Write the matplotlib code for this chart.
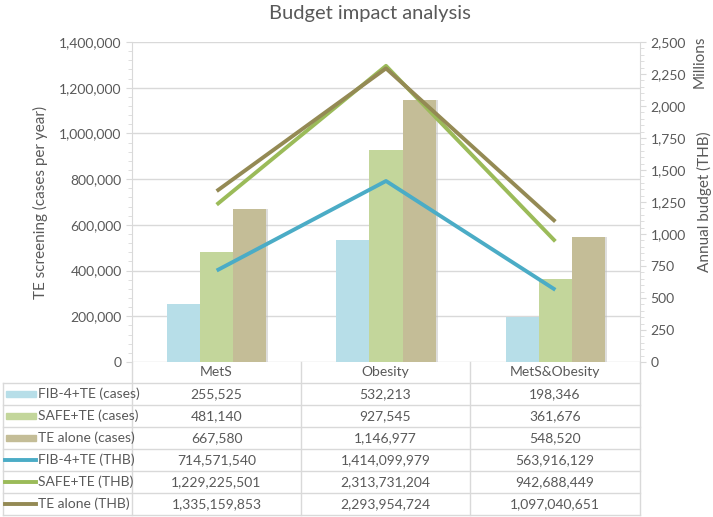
import matplotlib
matplotlib.use("Agg")
import matplotlib.pyplot as plt
import numpy as np
from matplotlib.ticker import FuncFormatter, MultipleLocator
from matplotlib.patches import Rectangle
from matplotlib.lines import Line2D

categories = ["MetS", "Obesity", "MetS&Obesity"]
fib4_cases = [255525, 532213, 198346]
safe_cases = [481140, 927545, 361676]
te_cases = [667580, 1146977, 548520]
fib4_thb = [714571540, 1414099979, 563916129]
safe_thb = [1229225501, 2313731204, 942688449]
te_thb = [1335159853, 2293954724, 1097040651]
series_names = ["FIB-4+TE (cases)", "SAFE+TE (cases)", "TE alone (cases)",
                "FIB-4+TE (THB)", "SAFE+TE (THB)", "TE alone (THB)"]

bar_colors = ["#B7DEE8", "#C3D69B", "#C4BD97"]
line_colors = ["#4BACC6", "#9BBB59", "#948A54"]
txt = "#595959"
grid = "#D9D9D9"

plt.rcParams['font.family'] = ['Lato', 'DejaVu Sans']

W, H = 713, 517
fig = plt.figure(figsize=(W/100, H/100), dpi=100)

def fx(px): return px / W
def fy(py): return 1 - py / H

x0, x1 = 132, 640
y_top, y_bot = 42, 362
ax = fig.add_axes([fx(x0), fy(y_bot), (x1-x0)/W, (y_bot-y_top)/H])
ax2 = ax.twinx()

x = np.arange(len(categories))
bw = 0.195
for i, (vals, c) in enumerate(zip([fib4_cases, safe_cases, te_cases], bar_colors)):
    pos = x + (i-1)*bw
    # shadow
    ax.bar(pos + 0.012, vals, bw, color="#BFBFBF", alpha=0.5, zorder=2)
    ax.bar(pos, vals, bw, color=c, zorder=3)

ax.set_xlim(-0.5, 2.5)
ax.set_ylim(0, 1400000)
ax.yaxis.set_major_locator(MultipleLocator(200000))
ax.yaxis.set_minor_locator(MultipleLocator(40000))
ax.yaxis.set_major_formatter(FuncFormatter(lambda v, p: f"{int(v):,}"))
ax.grid(axis='y', color=grid, linewidth=1, zorder=0)
ax.set_axisbelow(True)
ax.set_xticks([])
for s in ["top", "right", "bottom"]:
    ax.spines[s].set_visible(False)
ax.spines["left"].set_color(grid)
ax.tick_params(axis='y', which='both', colors=grid, labelcolor=txt, labelsize=10, length=4, direction='out')
ax.tick_params(axis='y', which='minor', length=3)
ax.set_ylabel("TE screening (cases per year)", color=txt, fontsize=11, labelpad=8)

for vals, c in zip([fib4_thb, safe_thb, te_thb], line_colors):
    ax2.plot(x, np.array(vals)/1e6, color=c, linewidth=2.8, zorder=4, solid_capstyle='butt')
ax2.set_ylim(0, 2500)
ax2.yaxis.set_major_locator(MultipleLocator(250))
ax2.yaxis.set_minor_locator(MultipleLocator(50))
ax2.yaxis.set_major_formatter(FuncFormatter(lambda v, p: f"{int(v):,}"))
for s in ["top", "left", "bottom"]:
    ax2.spines[s].set_visible(False)
ax2.spines["right"].set_color(grid)
ax2.tick_params(axis='y', which='both', colors=grid, labelcolor=txt, labelsize=10, length=4, direction='out')
ax2.tick_params(axis='y', which='minor', length=3)
ax2.set_ylabel("Annual budget (THB)", color=txt, fontsize=11, labelpad=8)
fig.text(fx(700), fy(62), "Millions", rotation=90, ha='center', va='center', color=txt, fontsize=11)

fig.text(fx(370), fy(14), "Budget impact analysis", ha='center', va='center', color=txt, fontsize=14.5)

# Data table
row_lines = [383, 405, 427, 449, 471, 493, 515]
col_edges = [x0, 301, 470, x1]
lc = grid
def hline(y, xa, xb):
    fig.add_artist(Line2D([fx(xa), fx(xb)], [fy(y), fy(y)], color=lc, lw=1))
def vline(xp, ya, yb):
    fig.add_artist(Line2D([fx(xp), fx(xp)], [fy(ya), fy(yb)], color=lc, lw=1))

for y in row_lines:
    hline(y, 3, x1)
vline(3, 383, 515)
for xe in col_edges:
    vline(xe, y_bot, 515)

# header
for j, cat in enumerate(categories):
    fig.text(fx((col_edges[j]+col_edges[j+1])/2), fy((y_bot+383)/2), cat,
             ha='center', va='center', color=txt, fontsize=10)

rows = [fib4_cases, safe_cases, te_cases, fib4_thb, safe_thb, te_thb]
key_colors = bar_colors + line_colors
for r, (name, vals) in enumerate(zip(series_names, rows)):
    yc = (row_lines[r] + row_lines[r+1]) / 2
    if r < 3:
        fig.add_artist(Rectangle((fx(6), fy(yc+3)), (36-6)/W, 6/H, color=key_colors[r],
                                 transform=fig.transFigure))
    else:
        fig.add_artist(Line2D([fx(5), fx(36)], [fy(yc), fy(yc)], color=key_colors[r], lw=2.8))
    fig.text(fx(38), fy(yc), name, ha='left', va='center', color=txt, fontsize=10)
    for j, v in enumerate(vals):
        fig.text(fx((col_edges[j]+col_edges[j+1])/2), fy(yc), f"{v:,}",
                 ha='center', va='center', color=txt, fontsize=10)

fig.savefig("out.png", dpi=100)
